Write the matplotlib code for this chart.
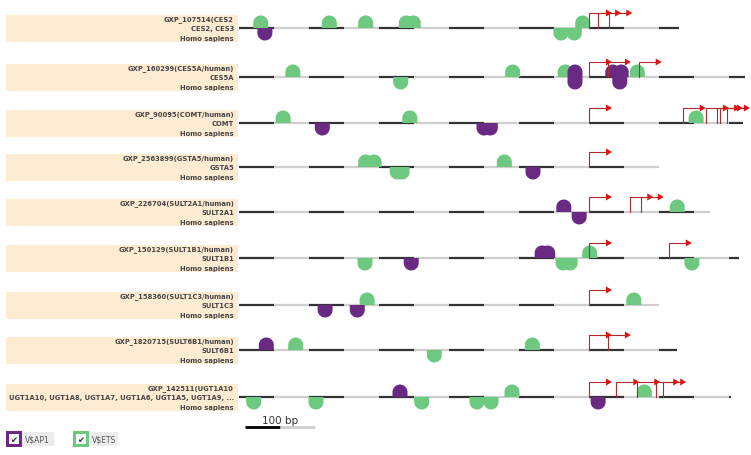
import matplotlib
matplotlib.use("Agg")
import matplotlib.pyplot as plt
from matplotlib.patches import Polygon, Rectangle
import numpy as np

# ---------------- data (positions in bp relative to first TSS) ----------------
gene_ids = ["GXP_107514(CES2", "GXP_160299(CES5A/human)", "GXP_90095(COMT/human)",
            "GXP_2563899(GSTA5/human)", "GXP_226704(SULT2A1/human)",
            "GXP_150129(SULT1B1/human)", "GXP_158360(SULT1C3/human)",
            "GXP_1820715(SULT6B1/human)", "GXP_142511(UGT1A10"]
gene_names = ["CES2, CES3", "CES5A", "COMT", "GSTA5", "SULT2A1", "SULT1B1",
              "SULT1C3", "SULT6B1",
              "UGT1A10, UGT1A8, UGT1A7, UGT1A6, UGT1A5, UGT1A9, ..."]
species = ["Homo sapiens"] * 9

track_start = -500
track_end = [128, 223, 220, 100, 173, 214, 100, 126, 203]

tss = [[0, 13, 29], [0, 27, 71], [0, 134, 167, 183, 187, 197], [0],
       [0, 59, 74], [0, 114], [0], [0, 27], [0, 39, 69, 96, 106]]

ets_plus = [[-469, -371, -319, -261, -251, -9], [-423, -109, -34, 69],
            [-437, -256, 153], [-319, -307, -121], [126], [1], [-317, 64],
            [-419, -81], [-110, 79]]
ets_minus = [[-40, -21], [-269], [], [-274, -267], [], [-320, -37, -27, 147],
             [], [-221], [-479, -390, -239, -160, -140]]
ap1_plus = [[], [-20, 34, 46], [], [], [-36], [-67, -59], [], [-461], [-270]]
ap1_minus = [[-463], [-20, 44], [-381, -150, -141], [-80], [-14], [-254],
             [-377, -331], [], [13]]

legend_labels = ["V$AP1", "V$ETS"]
scale_bp = 100

# ---------------- layout ----------------
W, H = 751, 456
PX_PER_BP = 0.7
TSS_PX = 589
row_y = [29, 78, 124, 168, 213, 259, 306, 351, 398]

GREEN = "#6cc97f"
PURPLE = "#6a2a84"
DARK = "#333333"
LIGHT = "#cfcfcf"
BEIGE = "#fdebd2"
ARROW_LINE = "#b02a2a"
ARROW_HEAD = "#e41010"
TXT = "#454545"

fig = plt.figure(figsize=(W / 100, H / 100), dpi=100)
fig.patch.set_facecolor("white")

# overlay axes in pixel units (for labels / legend)
lay = fig.add_axes([0, 0, 1, 1])
lay.set_xlim(0, W)
lay.set_ylim(H, 0)
lay.axis("off")

# main axes in bp units
ax = fig.add_axes([0, 0, 1, 1])
ax.set_xlim((0 - TSS_PX) / PX_PER_BP, (W - TSS_PX) / PX_PER_BP)
ax.set_ylim(H, 0)
ax.axis("off")
ax.patch.set_alpha(0)

DOME_W = 15.0 / PX_PER_BP  # in bp
DOME_R_PX = 7.5
DOME_H_PX = 12.5


def dome(x, y, up, color):
    t = np.linspace(np.pi, 0, 30)
    xs = np.concatenate([[-1], np.cos(t), [1]]) * (DOME_W / 2) + x
    ys_rel = np.concatenate([[0], (DOME_H_PX - DOME_R_PX) + DOME_R_PX * np.sin(t), [0]])
    sign = -1 if up else 1
    ys = y + sign * ys_rel
    ax.add_patch(Polygon(np.column_stack([xs, ys]), closed=True, facecolor=color,
                         edgecolor="none", zorder=3))


ARROW_H = 15
ARROW_LEN = 17 / PX_PER_BP
HEAD_LEN = 6 / PX_PER_BP
HEAD_HALF = 3.5

for i, y in enumerate(row_y):
    # label box
    lay.add_patch(Rectangle((6, y - 13), 232, 27, facecolor=BEIGE, edgecolor="none"))
    for dy, s_ in zip((-9, 0.5, 10), (gene_ids[i], gene_names[i], species[i])):
        lay.text(234, y + dy, s_, ha="right", va="center", fontsize=4.9,
                 fontweight="bold", color=TXT)

    # track segments
    s = track_start
    k = 0
    while s < track_end[i]:
        e = min(s + 50, track_end[i])
        ax.plot([s, e], [y, y], color=DARK if k % 2 == 0 else LIGHT, lw=1.6,
                solid_capstyle="butt", zorder=2)
        s += 50
        k += 1

    for x in ets_plus[i]:
        dome(x, y, True, GREEN)
    for x in ets_minus[i]:
        dome(x, y, False, GREEN)
    for x in ap1_plus[i]:
        dome(x, y, True, PURPLE)
    for x in ap1_minus[i]:
        dome(x, y, False, PURPLE)

    for t in tss[i]:
        ax.plot([t, t, t + ARROW_LEN], [y, y - ARROW_H, y - ARROW_H], color=ARROW_LINE,
                lw=0.8, zorder=5, solid_joinstyle="miter")
        hx = t + ARROW_LEN
        ax.add_patch(Polygon([[hx, y - ARROW_H - HEAD_HALF], [hx, y - ARROW_H + HEAD_HALF],
                              [hx + HEAD_LEN, y - ARROW_H]], closed=True,
                             facecolor=ARROW_HEAD, edgecolor="none", zorder=6))

# scale bar
sb0 = -492
sb_y = 428
ax.plot([sb0, sb0 + scale_bp / 2], [sb_y, sb_y], color="black", lw=2, solid_capstyle="butt")
ax.plot([sb0 + scale_bp / 2, sb0 + scale_bp], [sb_y, sb_y], color=LIGHT, lw=2,
        solid_capstyle="butt")
ax.text(sb0 + scale_bp / 2, 421, f"{scale_bp} bp", ha="center", va="center",
        fontsize=7.5, color="#333333")

# legend
leg_x = [6, 73]
leg_cols = [PURPLE, GREEN]
for lx, col, lab in zip(leg_x, leg_cols, legend_labels):
    lay.add_patch(Rectangle((lx + 15, 433), 33 if lab == "V$AP1" else 30, 14,
                            facecolor="#ececec", edgecolor="none"))
    lay.add_patch(Rectangle((lx, 432), 16, 16, facecolor=col, edgecolor="none"))
    lay.add_patch(Rectangle((lx + 3, 435), 10, 10, facecolor="#f4f4f4", edgecolor="none"))
    lay.text(lx + 8, 440.5, "\u2714", ha="center", va="center", fontsize=6, color="#333333")
    lay.text(lx + 19, 440.5, lab.replace("$", r"\$"), ha="left", va="center",
             fontsize=5.5, color="#555555")

fig.savefig("out.png", dpi=100)
